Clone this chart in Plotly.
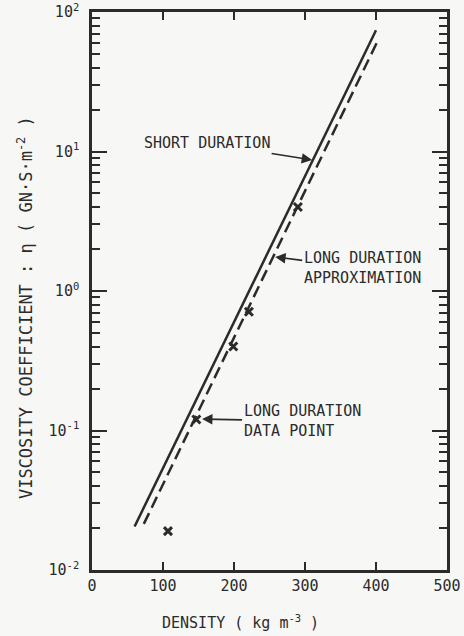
import plotly.graph_objects as go

# Data
short_density = [60, 400]
short_viscosity = [0.0205, 74]
long_density = [73, 403]
long_viscosity = [0.0214, 63]
point_density = [107, 147, 199, 221, 290]
point_viscosity = [0.019, 0.12, 0.40, 0.71, 4.0]

x_ticks = [0, 100, 200, 300, 400, 500]
y_tickvals = [0.01, 0.1, 1, 10, 100]
y_ticktext = ["10<sup>-2</sup>", "10<sup>-1</sup>", "10<sup>0</sup>", "10<sup>1</sup>", "10<sup>2</sup>"]
y_minor = [m * d for d in [0.01, 0.1, 1, 10] for m in range(2, 10)]

INK = "#2b2b2b"
FONT = "DejaVu Sans Mono, Liberation Mono, monospace"

fig = go.Figure()
fig.add_trace(go.Scatter(x=short_density, y=short_viscosity, mode="lines",
                         line=dict(color=INK, width=2.5), showlegend=False))
fig.add_trace(go.Scatter(x=long_density, y=long_viscosity, mode="lines", yaxis="y2",
                         line=dict(color=INK, width=2.5, dash="12px,6px"), showlegend=False))
fig.add_trace(go.Scatter(x=point_density, y=point_viscosity, mode="markers",
                         marker=dict(symbol="x-thin", size=8, line=dict(color=INK, width=3)),
                         showlegend=False))

ann_font = dict(family=FONT, size=15, color=INK)
fig.add_annotation(x=310, y=0.939, xref="x", yref="y", text="SHORT DURATION",
                   showarrow=True, ax=-105, ay=-17, arrowhead=2, arrowsize=1.3,
                   arrowwidth=1.6, arrowcolor=INK, font=ann_font)
fig.add_annotation(x=258, y=0.244, xref="x", yref="y",
                   text="LONG DURATION<br>APPROXIMATION", align="left",
                   showarrow=True, ax=87, ay=11, arrowhead=2, arrowsize=1.3,
                   arrowwidth=1.6, arrowcolor=INK, font=ann_font)
fig.add_annotation(x=155, y=-0.918, xref="x", yref="y",
                   text="LONG DURATION<br>DATA POINT", align="left",
                   showarrow=True, ax=100, ay=2, arrowhead=2, arrowsize=1.3,
                   arrowwidth=1.6, arrowcolor=INK, font=ann_font)

fig.add_annotation(x=-0.189, y=0.471, xref="paper", yref="paper", textangle=-90,
                   xanchor="center", yanchor="middle",
                   text="VISCOSITY COEFFICIENT : η ( GN·S·m<sup>-2</sup> )",
                   showarrow=False, font=dict(family=FONT, size=17, color=INK))
fig.add_annotation(x=0.417, y=-0.093, xref="paper", yref="paper",
                   xanchor="center", yanchor="middle",
                   text="DENSITY ( kg m<sup>-3</sup> )",
                   showarrow=False, font=dict(family=FONT, size=15, color=INK))

fig.update_xaxes(range=[0, 500], tickvals=x_ticks, ticks="inside", ticklen=8,
                 tickwidth=2, tickcolor=INK, showline=True, linewidth=2.5,
                 linecolor=INK, mirror="ticks", showgrid=False, zeroline=False,
                 automargin=False,
                 tickfont=dict(family=FONT, size=15, color=INK))
fig.update_layout(
    yaxis=dict(type="log", range=[-2, 2], tickvals=y_tickvals, ticktext=y_ticktext,
               ticks="inside", ticklen=15, tickwidth=2, tickcolor=INK,
               showline=True, linewidth=2.5, linecolor=INK, mirror="ticks",
               showgrid=False, zeroline=False, automargin=False,
               ticklabelstandoff=7,
               tickfont=dict(family=FONT, size=15, color=INK)),
    yaxis2=dict(type="log", range=[-2, 2], overlaying="y", side="left",
                tickvals=y_minor, showticklabels=False, ticks="inside", ticklen=8,
                tickwidth=2, tickcolor=INK, showline=True, linewidth=2.5,
                linecolor=INK, mirror="ticks", showgrid=False, zeroline=False,
                automargin=False),
)

fig.update_layout(width=464, height=636, margin=dict(l=92, r=17, t=12, b=66),
                  paper_bgcolor="#f7f7f5", plot_bgcolor="#f7f7f5")
fig.write_html("out.html", config={"displayModeBar": False},
               post_script="document.body.style.margin='0';")
